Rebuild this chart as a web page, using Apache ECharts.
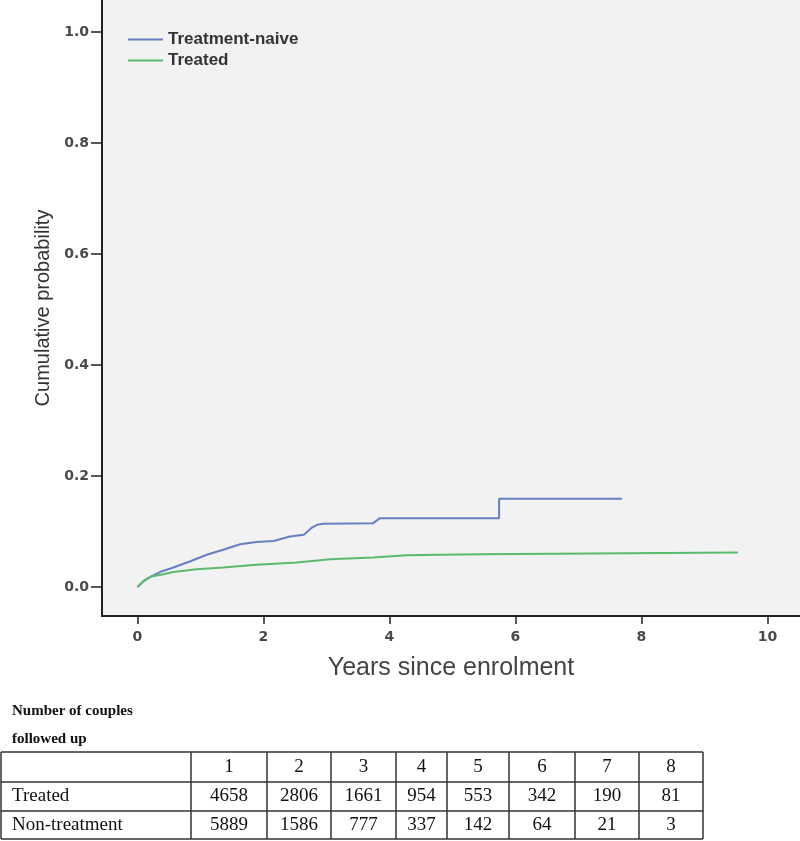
<!DOCTYPE html>
<html>
<head>
<meta charset="utf-8">
<script src="https://cdn.jsdelivr.net/npm/echarts@6/dist/echarts.min.js"></script>
<style>
html,body{margin:0;padding:0;background:#fff;}
#chart{width:800px;height:841px;}
</style>
</head>
<body>
<div id="chart"></div>
<script>
// ---- Data ----
const seriesNames = ['Treatment-naive', 'Treated'];
// Treatment-naive cumulative probability: [years, probability]
const naiveCurve = [
  [0.00, 0.000], [0.09, 0.010], [0.22, 0.019], [0.38, 0.028], [0.57, 0.035],
  [0.83, 0.046], [1.10, 0.058], [1.36, 0.067], [1.63, 0.077], [1.89, 0.081],
  [2.16, 0.083], [2.42, 0.091], [2.64, 0.094], [2.70, 0.100], [2.77, 0.107],
  [2.85, 0.112], [2.95, 0.114], [3.74, 0.115], [3.80, 0.120], [3.85, 0.124],
  [5.74, 0.124], [5.74, 0.159], [7.69, 0.159]
];
// Treated cumulative probability: [years, probability]
const treatedCurve = [
  [0.00, 0.000], [0.12, 0.013], [0.22, 0.019], [0.41, 0.023], [0.57, 0.027],
  [0.94, 0.032], [1.36, 0.035], [1.89, 0.040], [2.53, 0.044], [3.06, 0.050],
  [3.74, 0.053], [4.27, 0.057], [4.80, 0.058], [5.44, 0.059], [5.44, 0.062],
  [9.53, 0.062]
];
const xTickValues = [0, 2, 4, 6, 8, 10];
const yTickValues = [0, 0.2, 0.4, 0.6, 0.8, 1.0];

// Number-at-risk table
const tableTitle = ['Number of couples', 'followed up'];
const tableYears = ['1', '2', '3', '4', '5', '6', '7', '8'];
const tableRowLabels = ['Treated', 'Non-treatment'];
const treatedCounts = [4658, 2806, 1661, 954, 553, 342, 190, 81];
const nonTreatmentCounts = [5889, 1586, 777, 337, 142, 64, 21, 3];

// ---- Layout ----
const colEdges = [1, 191, 267, 331, 396, 447, 509, 575, 639, 703];
const rowEdges = [752, 782, 811, 839];
const tableFont = '19px "Liberation Serif", "Times New Roman", serif';
const tickFont = '"DejaVu Sans", Verdana, sans-serif';
const titleFont = '"Liberation Sans", Arial, sans-serif';

const graphics = [];
graphics.push({type:'text', left: 12, top: 704, style:{text: tableTitle[0], font:'bold 15px "Liberation Serif", serif', fill:'#111'}});
graphics.push({type:'text', left: 12, top: 732, style:{text: tableTitle[1], font:'bold 15px "Liberation Serif", serif', fill:'#111'}});
rowEdges.forEach(y => {
  graphics.push({type:'line', shape:{x1: colEdges[0], y1: y, x2: colEdges[colEdges.length-1], y2: y}, style:{stroke:'#333', lineWidth:1.5}});
});
colEdges.forEach(x => {
  graphics.push({type:'line', shape:{x1: x, y1: rowEdges[0], x2: x, y2: rowEdges[rowEdges.length-1]}, style:{stroke:'#333', lineWidth:1.5}});
});
function cellText(txt, col, row, alignLeft) {
  const x0 = colEdges[col], x1 = colEdges[col+1];
  const yc = (rowEdges[row] + rowEdges[row+1]) / 2;
  graphics.push({
    type:'text',
    x: alignLeft ? x0 + 11 : (x0 + x1) / 2,
    y: yc,
    style:{text: String(txt), font: tableFont, fill:'#111', align: alignLeft ? 'left' : 'center', verticalAlign:'middle'}
  });
}
tableYears.forEach((t, i) => cellText(t, i + 1, 0, false));
cellText(tableRowLabels[0], 0, 1, true);
cellText(tableRowLabels[1], 0, 2, true);
treatedCounts.forEach((v, i) => cellText(v, i + 1, 1, false));
nonTreatmentCounts.forEach((v, i) => cellText(v, i + 1, 2, false));

const chart = echarts.init(document.getElementById('chart'), null, {renderer:'canvas'});
chart.setOption({
  animation: false,
  backgroundColor: '#ffffff',
  grid: {
    left: 102, top: 0, right: 0, height: 616,
    show: true, backgroundColor: '#f2f2f2', borderWidth: 0
  },
  legend: {
    orient: 'vertical',
    left: 123, top: 25,
    icon: 'rect',
    itemWidth: 35, itemHeight: 2, itemGap: 2,
    textStyle: {fontFamily: titleFont, fontSize: 17, fontWeight: 'bold', color: '#333', lineHeight: 19},
    data: seriesNames
  },
  xAxis: {
    type: 'value',
    min: -0.563, max: 10.516,
    name: 'Years since enrolment',
    nameLocation: 'middle',
    nameGap: 40,
    nameTextStyle: {fontFamily: titleFont, fontSize: 25, color: '#444'},
    axisLine: {onZero: false, lineStyle: {color: '#222', width: 2}},
    axisTick: {show: true, length: 8, customValues: xTickValues, lineStyle: {color: '#222', width: 1.5}},
    axisLabel: {customValues: xTickValues, margin: 14, fontFamily: tickFont, fontSize: 14, fontWeight: 'bold', color: '#4a4a4a'},
    splitLine: {show: false}
  },
  yAxis: {
    type: 'value',
    min: -0.0523, max: 1.0577,
    name: 'Cumulative probability',
    nameLocation: 'middle',
    nameGap: 48,
    nameTextStyle: {fontFamily: titleFont, fontSize: 20, color: '#333'},
    axisLine: {show: true, onZero: false, lineStyle: {color: '#222', width: 2}},
    axisTick: {show: true, length: 11, customValues: yTickValues, lineStyle: {color: '#222', width: 1.5}},
    axisLabel: {customValues: yTickValues, margin: 13, fontFamily: tickFont, fontSize: 14, fontWeight: 'bold', color: '#4a4a4a',
      formatter: v => v.toFixed(1)},
    splitLine: {show: false}
  },
  series: [
    {name: seriesNames[0], type: 'line', data: naiveCurve, symbol: 'none', lineStyle: {color: '#6580c2', width: 2}, itemStyle: {color: '#6580c2'}},
    {name: seriesNames[1], type: 'line', data: treatedCurve, symbol: 'none', lineStyle: {color: '#5cba6e', width: 2}, itemStyle: {color: '#5cba6e'}}
  ],
  graphic: graphics
});
</script>
</body>
</html>
